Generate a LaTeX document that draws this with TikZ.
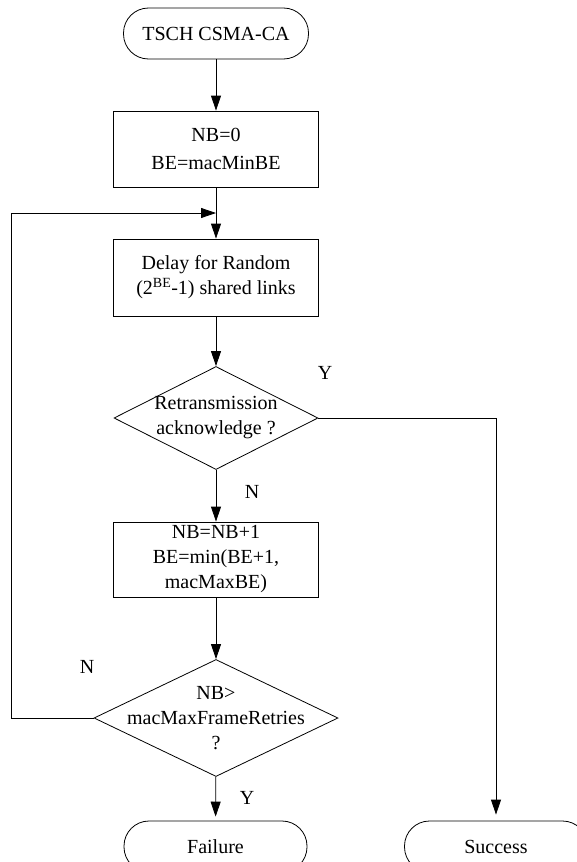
\documentclass[tikz,border=0pt]{standalone}
\usepackage{fontspec}
\setmainfont{Liberation Serif}
\usetikzlibrary{shapes.geometric,arrows.meta,positioning}

\begin{document}
\begin{tikzpicture}[x=1pt, y=-1pt,
    font=\fontsize{20}{25}\selectfont, line width=0.8pt,
    term/.style={draw, rounded corners=25pt, minimum width=183pt,
      minimum height=51pt, inner sep=0pt},
    proc/.style={draw, minimum width=205pt, inner sep=0pt, align=center},
    decide/.style={draw, diamond, inner sep=0pt},
    txt/.style={align=center, inner sep=0pt},
    arr/.style={-{Triangle[length=15pt,width=10pt]}},
  ]
    \useasboundingbox (0,0) rectangle (577,862);
    \clip (0,0) rectangle (577,862);
    \def\cx{216}  % main column

    % start and init
    \node[term, minimum width=185pt] (start) at (\cx,33.5) {TSCH CSMA-CA};
    \node[proc, minimum height=76pt, font=\fontsize{20}{28}\selectfont]
      (init) at (\cx,149) {NB=0\\BE=macMinBE};

    % back-off loop
    \coordinate (merge) at (\cx,213);
    \coordinate (back) at (11,213);
    \node[proc, minimum height=77pt] (delay) at (\cx,277.5)
      {Delay for Random\\(2\textsuperscript{BE}-1) shared links};
    \node[decide, minimum width=204pt, minimum height=103pt] (ack) at (\cx,418) {};
    \node[txt] (acktxt) at (ack) {Retransmission\\acknowledge ?};
    \node[proc, minimum height=75pt] (upd) at (\cx,559.5)
      {NB=NB+1\\BE=min(BE+1,\\macMaxBE)};
    \node[decide, minimum width=244pt, minimum height=117pt] (retry) at (\cx,718) {};
    \node[txt] (retrytxt) at (retry) {NB\textgreater\\macMaxFrameRetries\\?};

    % ends
    \node[term] (fail) at (215.5,846.5) {Failure};
    \node[term] (succ) at (496,846.5) {Success};

    % labels
    \node (ackY) at (325,373) {Y};
    \node (ackN) at (252,492) {N};
    \node (retryN) at (87,667) {N};
    \node (retryY) at (247,798) {Y};

    \draw[arr] (start) -- (init);
    \draw[arr] (init) -- (delay);
    \draw[arr] (delay) -- (ack);
    \draw[arr] (ack) -- (upd);
    \draw[arr] (upd) -- (retry);
    \draw[arr] (retry.west) -| (back) -- (merge);
    \draw[arr, shorten >=4pt] (retry) -- (fail);
    \draw[arr, shorten >=6pt] (ack.east) -| (succ);
\end{tikzpicture}
\end{document}
